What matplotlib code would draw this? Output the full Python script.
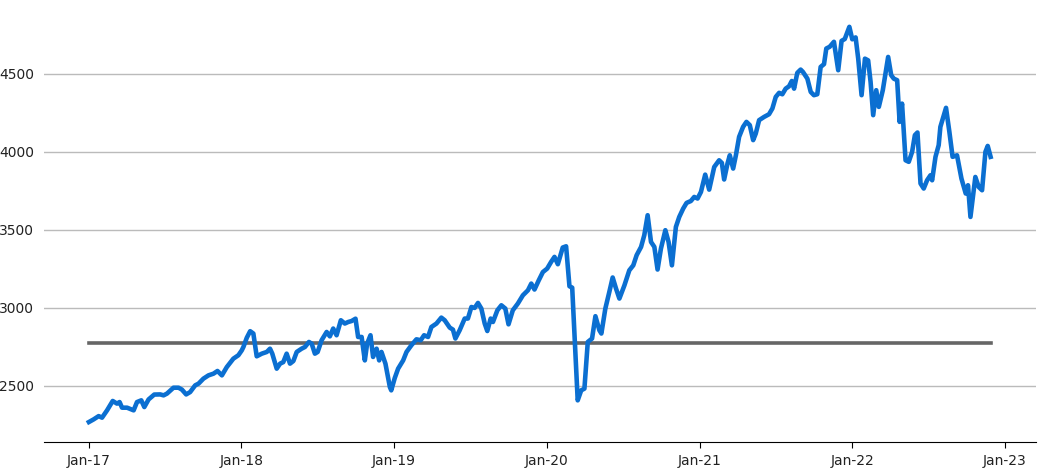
import matplotlib
matplotlib.use("Agg")
import matplotlib.pyplot as plt
import matplotlib.dates as mdates
import pandas as pd
import numpy as np

# time as years since 1 Jan 2017, index level
years = [
    0.000, 0.031, 0.064, 0.086, 0.119, 0.156, 0.184, 0.201, 0.217, 0.250,
    0.293, 0.315, 0.343, 0.363, 0.391, 0.428, 0.467, 0.489, 0.511, 0.554,
    0.587, 0.609, 0.637, 0.663, 0.696, 0.718, 0.750, 0.783, 0.816, 0.842,
    0.871, 0.903, 0.946, 0.979, 1.001, 1.012, 1.034, 1.056, 1.077, 1.099,
    1.132, 1.165, 1.186, 1.201, 1.230, 1.252, 1.273, 1.295, 1.317, 1.339,
    1.361, 1.393, 1.415, 1.441, 1.459, 1.480, 1.498, 1.524, 1.557, 1.578,
    1.600, 1.622, 1.650, 1.676, 1.698, 1.720, 1.746, 1.763, 1.786, 1.807,
    1.822, 1.844, 1.861, 1.884, 1.901, 1.916, 1.942, 1.971, 1.980, 2.003,
    2.025, 2.058, 2.080, 2.112, 2.145, 2.173, 2.195, 2.221, 2.243, 2.276,
    2.308, 2.330, 2.363, 2.384, 2.400, 2.428, 2.461, 2.482, 2.505, 2.526,
    2.548, 2.570, 2.592, 2.609, 2.631, 2.646, 2.675, 2.701, 2.727, 2.748,
    2.776, 2.809, 2.842, 2.875, 2.897, 2.918, 2.946, 2.973, 3.001, 3.027,
    3.049, 3.071, 3.103, 3.125, 3.147, 3.165, 3.201, 3.224, 3.245, 3.267,
    3.295, 3.317, 3.343, 3.356, 3.382, 3.408, 3.430, 3.452, 3.474, 3.507,
    3.539, 3.565, 3.587, 3.616, 3.637, 3.659, 3.681, 3.703, 3.724, 3.746,
    3.775, 3.796, 3.818, 3.844, 3.866, 3.892, 3.914, 3.942, 3.964, 3.986,
    4.008, 4.036, 4.062, 4.095, 4.127, 4.145, 4.160, 4.182, 4.197, 4.219,
    4.237, 4.258, 4.284, 4.306, 4.328, 4.350, 4.367, 4.389, 4.422, 4.454,
    4.476, 4.498, 4.520, 4.541, 4.563, 4.585, 4.603, 4.618, 4.639, 4.661,
    4.676, 4.705, 4.727, 4.748, 4.770, 4.792, 4.814, 4.829, 4.851, 4.879,
    4.907, 4.929, 4.950, 4.980, 4.999, 5.021, 5.038, 5.060, 5.082, 5.103,
    5.119, 5.136, 5.156, 5.173, 5.199, 5.234, 5.254, 5.271, 5.293, 5.309,
    5.325, 5.348, 5.369, 5.391, 5.409, 5.426, 5.446, 5.467, 5.489, 5.511,
    5.522, 5.544, 5.565, 5.576, 5.613, 5.635, 5.656, 5.685, 5.714, 5.742,
    5.757, 5.773, 5.805, 5.827, 5.849, 5.871, 5.886, 5.905,
]
index_level = [
    2268, 2285, 2306, 2296, 2343, 2403, 2386, 2396, 2360, 2360,
    2343, 2396, 2407, 2364, 2413, 2444, 2445, 2439, 2450, 2488,
    2488, 2476, 2445, 2460, 2503, 2514, 2546, 2567, 2578, 2595,
    2567, 2620, 2674, 2696, 2727, 2749, 2808, 2850, 2835, 2689,
    2706, 2717, 2738, 2706, 2610, 2642, 2652, 2706, 2642, 2659,
    2717, 2738, 2749, 2781, 2770, 2706, 2717, 2792, 2845, 2817,
    2867, 2824, 2920, 2899, 2909, 2915, 2930, 2813, 2813, 2663,
    2770, 2824, 2685, 2738, 2663, 2717, 2642, 2492, 2471, 2550,
    2610, 2663, 2717, 2760, 2798, 2792, 2824, 2813, 2877, 2899,
    2937, 2920, 2873, 2860, 2803, 2856, 2931, 2931, 3005, 2999,
    3031, 2995, 2899, 2851, 2931, 2909, 2984, 3016, 2995, 2894,
    2984, 3027, 3080, 3112, 3155, 3117, 3176, 3229, 3251, 3294,
    3326, 3279, 3386, 3394, 3138, 3129, 2407, 2471, 2482, 2781,
    2803, 2946, 2856, 2835, 2995, 3101, 3194, 3123, 3059, 3144,
    3240, 3272, 3337, 3390, 3465, 3593, 3422, 3390, 3245, 3379,
    3497, 3422, 3272, 3518, 3582, 3636, 3672, 3684, 3710, 3700,
    3742, 3853, 3757, 3902, 3945, 3928, 3822, 3924, 3977, 3892,
    3977, 4095, 4159, 4191, 4170, 4074, 4116, 4202, 4223, 4240,
    4277, 4351, 4377, 4368, 4404, 4419, 4453, 4404, 4505, 4526,
    4511, 4468, 4383, 4362, 4368, 4543, 4561, 4661, 4672, 4704,
    4522, 4710, 4722, 4800, 4720, 4732, 4596, 4362, 4596, 4585,
    4447, 4234, 4394, 4287, 4394, 4607, 4490, 4468, 4458, 4191,
    4308, 3945, 3935, 3999, 4106, 4123, 3796, 3764, 3817, 3849,
    3817, 3967, 4042, 4159, 4281, 4127, 3967, 3977, 3828, 3732,
    3785, 3582, 3838, 3774, 3753, 3999, 4037, 3967,
]
reference_level = 2775

tick_years = [2017, 2018, 2019, 2020, 2021, 2022, 2023]
tick_labels = ["Jan-17", "Jan-18", "Jan-19", "Jan-20", "Jan-21", "Jan-22", "Jan-23"]

start = pd.Timestamp("2017-01-01")
dates = start + pd.to_timedelta(np.array(years) * 365.25, unit="D")
ticks = [pd.Timestamp(f"{y}-01-01") for y in tick_years]

fig = plt.figure(figsize=(10.43, 4.71), dpi=100)
ax = fig.add_axes([0.042, 0.062, 0.951, 0.923])

ax.plot(dates, index_level, color="#0b6fd1", linewidth=3.3, zorder=3)
ax.plot(dates, [reference_level] * len(dates), color="#666666", linewidth=2.6, zorder=2)

ax.set_yticks([2500, 3000, 3500, 4000, 4500])
ax.yaxis.grid(True, color="#bbbbbb", linewidth=1)
ax.set_axisbelow(True)
ax.set_xticks(ticks)
ax.set_xticklabels(tick_labels)

ax.tick_params(axis="y", length=0, pad=7, labelsize=10, labelcolor="#222222")
ax.tick_params(axis="x", length=4, pad=5, labelsize=10, labelcolor="#222222")

for side in ["top", "right", "left"]:
    ax.spines[side].set_visible(False)
ax.spines["bottom"].set_color("#000000")

fig.savefig("out.png", dpi=100)
